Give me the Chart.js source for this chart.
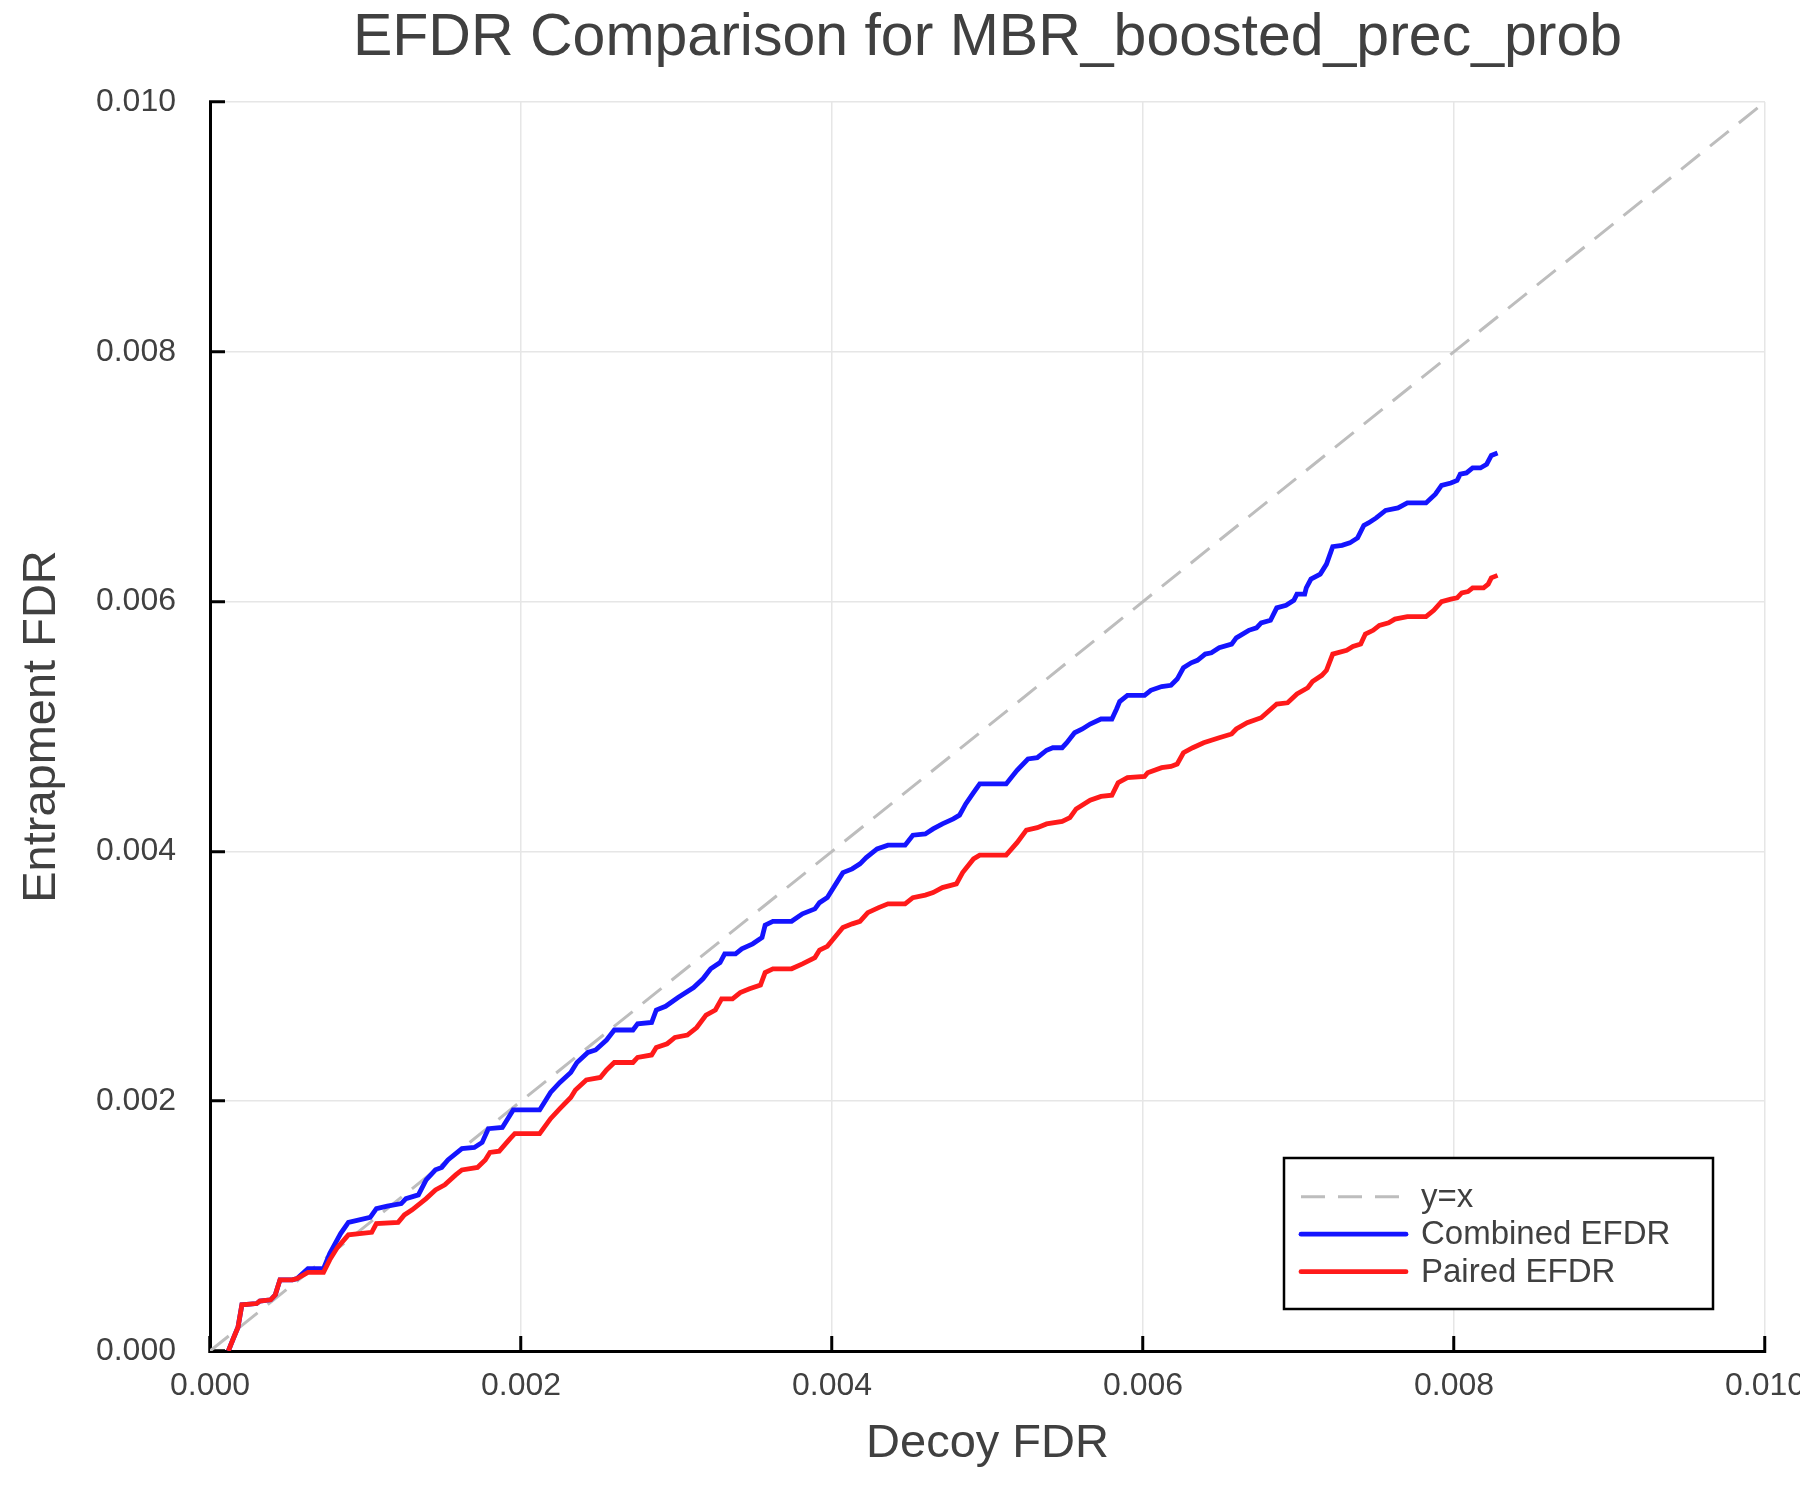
<!DOCTYPE html>
<html>
<head>
<meta charset="utf-8">
<script src="https://cdn.jsdelivr.net/npm/chart.js@4.4.1/dist/chart.umd.min.js"></script>
<style>html,body{margin:0;padding:0;background:#fff}canvas{display:block}</style>
</head>
<body>
<canvas id="c" width="1800" height="1500"></canvas>
<script>
const titleText = 'EFDR Comparison for MBR_boosted_prec_prob';
const xAxisTitle = 'Decoy FDR';
const yAxisTitle = 'Entrapment FDR';
const seriesLabels = ['y=x', 'Combined EFDR', 'Paired EFDR'];
const xTickLabels = ['0.000', '0.002', '0.004', '0.006', '0.008', '0.010'];
const yTickLabels = ['0.000', '0.002', '0.004', '0.006', '0.008', '0.010'];

const diagX = [0, 0.010];
const diagY = [0, 0.010];

const combinedX = [0.000118,0.00015,0.00018,0.000205,0.0003,0.00032,0.00039,0.00042,0.00045,0.00053,0.00056,0.00063,0.00073,0.00077,0.00084,0.00089,0.00103,0.00107,0.00114,0.00123,0.00126,0.00134,0.00139,0.00145,0.00149,0.00153,0.00162,0.0017,0.00175,0.00179,0.00188,0.00191,0.00195,0.00212,0.00219,0.00225,0.00232,0.00236,0.00243,0.00248,0.00255,0.0026,0.00272,0.00275,0.00284,0.00287,0.00293,0.00301,0.00311,0.00317,0.00322,0.00328,0.00331,0.00338,0.00342,0.00349,0.00355,0.00357,0.00362,0.00374,0.00381,0.00389,0.00392,0.00397,0.00403,0.00407,0.00413,0.00418,0.00422,0.00429,0.00436,0.00447,0.00452,0.0046,0.00465,0.00471,0.00478,0.00482,0.00486,0.00491,0.00495,0.00512,0.00519,0.00526,0.00532,0.00538,0.00542,0.00548,0.00551,0.00556,0.00561,0.00566,0.00573,0.0058,0.00583,0.00585,0.0059,0.00601,0.00605,0.00612,0.00618,0.00622,0.00626,0.00631,0.00635,0.0064,0.00644,0.00649,0.00657,0.0066,0.00668,0.00673,0.00676,0.00682,0.00686,0.00692,0.00697,0.00699,0.00704,0.00705,0.00708,0.00714,0.00718,0.00722,0.00728,0.00733,0.00738,0.00742,0.00745,0.0075,0.00756,0.00764,0.0077,0.00782,0.00788,0.00792,0.00798,0.00802,0.00804,0.00808,0.00812,0.00817,0.00821,0.00824,0.00828];
const combinedY = [0,0.0001,0.00019,0.00037,0.00038,0.0004,0.00041,0.00045,0.00057,0.00057,0.00058,0.00066,0.00066,0.00078,0.00094,0.00103,0.00107,0.00114,0.00116,0.00118,0.00122,0.00125,0.00137,0.00145,0.00147,0.00153,0.00162,0.00163,0.00167,0.00178,0.00179,0.00185,0.00193,0.00193,0.00207,0.00215,0.00223,0.00231,0.00239,0.00241,0.00249,0.00257,0.00257,0.00262,0.00263,0.00273,0.00276,0.00283,0.00291,0.00298,0.00306,0.00311,0.00318,0.00318,0.00322,0.00326,0.00331,0.00341,0.00344,0.00344,0.0035,0.00354,0.00359,0.00363,0.00375,0.00383,0.00386,0.0039,0.00395,0.00402,0.00405,0.00405,0.00413,0.00414,0.00418,0.00422,0.00426,0.00429,0.00438,0.00447,0.00454,0.00454,0.00465,0.00474,0.00475,0.00481,0.00483,0.00483,0.00487,0.00495,0.00498,0.00502,0.00506,0.00506,0.00514,0.0052,0.00525,0.00525,0.00529,0.00532,0.00533,0.00538,0.00547,0.00551,0.00553,0.00558,0.00559,0.00563,0.00566,0.00571,0.00577,0.00579,0.00583,0.00585,0.00595,0.00597,0.00601,0.00606,0.00606,0.00611,0.00618,0.00622,0.0063,0.00644,0.00645,0.00647,0.00651,0.00661,0.00663,0.00667,0.00673,0.00675,0.00679,0.00679,0.00686,0.00693,0.00695,0.00697,0.00702,0.00703,0.00707,0.00707,0.0071,0.00717,0.00719];

const pairedX = [0.000118,0.00015,0.00018,0.000205,0.0003,0.00032,0.00039,0.00042,0.00045,0.00053,0.00056,0.00063,0.00073,0.00077,0.00082,0.00089,0.00104,0.00107,0.00121,0.00125,0.0013,0.00139,0.00145,0.00151,0.00158,0.00162,0.00172,0.00177,0.0018,0.00186,0.00193,0.00196,0.00212,0.00219,0.00225,0.00232,0.00235,0.00242,0.00251,0.00255,0.0026,0.00272,0.00275,0.00284,0.00287,0.00294,0.00299,0.00307,0.00313,0.00319,0.00325,0.00329,0.00336,0.00341,0.00347,0.00354,0.00357,0.00362,0.00374,0.00381,0.00389,0.00392,0.00397,0.00403,0.00407,0.00413,0.00418,0.00423,0.0043,0.00436,0.00447,0.00452,0.0046,0.00465,0.00471,0.0048,0.00484,0.00491,0.00495,0.00512,0.00519,0.00525,0.00532,0.00538,0.00548,0.00553,0.00557,0.00566,0.00573,0.0058,0.00584,0.0059,0.00601,0.00603,0.00612,0.00618,0.00622,0.00626,0.00632,0.00639,0.00649,0.00657,0.0066,0.00667,0.00676,0.00686,0.00693,0.00699,0.00706,0.00709,0.00715,0.00718,0.00722,0.00731,0.00735,0.0074,0.00743,0.00748,0.00752,0.00758,0.00762,0.0077,0.00782,0.00787,0.00792,0.00798,0.00802,0.00805,0.00809,0.00812,0.00819,0.00822,0.00824,0.00828];
const pairedY = [0,0.0001,0.00019,0.00037,0.00038,0.0004,0.00041,0.00045,0.00057,0.00057,0.00058,0.00063,0.00063,0.00073,0.00083,0.00093,0.00095,0.00102,0.00103,0.00109,0.00113,0.00122,0.00129,0.00133,0.00141,0.00145,0.00147,0.00153,0.00159,0.0016,0.0017,0.00174,0.00174,0.00186,0.00194,0.00203,0.00209,0.00217,0.00219,0.00225,0.00231,0.00231,0.00235,0.00237,0.00243,0.00246,0.00251,0.00253,0.00259,0.00269,0.00273,0.00282,0.00282,0.00287,0.0029,0.00293,0.00303,0.00306,0.00306,0.0031,0.00315,0.00321,0.00324,0.00333,0.00339,0.00342,0.00344,0.00351,0.00355,0.00358,0.00358,0.00363,0.00365,0.00367,0.00371,0.00374,0.00383,0.00394,0.00397,0.00397,0.00407,0.00417,0.00419,0.00422,0.00424,0.00427,0.00434,0.00441,0.00444,0.00445,0.00455,0.00459,0.0046,0.00463,0.00467,0.00468,0.0047,0.00479,0.00483,0.00487,0.00491,0.00494,0.00498,0.00503,0.00507,0.00518,0.00519,0.00526,0.00531,0.00536,0.00541,0.00545,0.00558,0.00561,0.00564,0.00566,0.00574,0.00577,0.00581,0.00583,0.00586,0.00588,0.00588,0.00593,0.006,0.00602,0.00603,0.00607,0.00608,0.00611,0.00611,0.00614,0.00619,0.00621];

const toPoints = (xs, ys) => xs.map((x, i) => ({ x: x, y: ys[i] }));
const TEXT = '#404040';
const FONT = "'Liberation Sans', Arial, Helvetica, sans-serif";

const boxLegend = {
  id: 'boxLegend',
  afterDraw(chart) {
    const ctx = chart.ctx;
    const ca = chart.chartArea;
    const w = 429, h = 151;
    const bx = ca.right - 52 - w;
    const by = ca.bottom - 42 - h;
    ctx.save();
    ctx.fillStyle = '#ffffff';
    ctx.fillRect(bx, by, w, h);
    ctx.strokeStyle = '#000000';
    ctx.lineWidth = 2.5;
    ctx.strokeRect(bx, by, w, h);
    ctx.font = '33px ' + FONT;
    ctx.textBaseline = 'middle';
    ctx.textAlign = 'left';
    chart.data.datasets.forEach((ds, i) => {
      const cy = by + 38.7 + i * 37.5;
      ctx.beginPath();
      ctx.setLineDash(ds.borderDash || []);
      ctx.strokeStyle = ds.borderColor;
      ctx.lineWidth = ds.borderWidth;
      ctx.lineCap = ds.borderDash ? 'butt' : 'round';
      ctx.moveTo(bx + 17, cy);
      ctx.lineTo(bx + 122, cy);
      ctx.stroke();
      ctx.setLineDash([]);
      ctx.fillStyle = TEXT;
      ctx.fillText(ds.label, bx + 137, cy + 1);
    });
    ctx.restore();
  }
};

new Chart(document.getElementById('c'), {
  type: 'scatter',
  data: {
    datasets: [
      {
        label: seriesLabels[0],
        data: toPoints(diagX, diagY),
        showLine: true,
        borderColor: '#bdbdbd',
        borderWidth: 3,
        borderDash: [24, 13],
        pointRadius: 0,
        order: 3
      },
      {
        label: seriesLabels[1],
        data: toPoints(combinedX, combinedY),
        showLine: true,
        borderColor: '#1414ff',
        borderWidth: 4.8,
        pointRadius: 0,
        order: 2
      },
      {
        label: seriesLabels[2],
        data: toPoints(pairedX, pairedY),
        showLine: true,
        borderColor: '#ff1a1a',
        borderWidth: 4.8,
        pointRadius: 0,
        order: 1
      }
    ]
  },
  options: {
    responsive: false,
    devicePixelRatio: 1,
    animation: false,
    layout: { padding: { left: 0, right: 35, top: 0, bottom: 0 } },
    plugins: {
      legend: { display: false },
      tooltip: { enabled: false },
      title: {
        display: true,
        text: titleText,
        fullSize: false,
        color: TEXT,
        font: { family: FONT, size: 59, weight: 'normal' },
        padding: { top: 3, bottom: 28.2 }
      }
    },
    scales: {
      x: {
        type: 'linear',
        min: 0,
        max: 0.010,
        afterFit(s) { s.height = 149; s.paddingLeft = 0; s.paddingRight = 0; },
        ticks: {
          stepSize: 0.002,
          maxRotation: 0,
          autoSkip: false,
          padding: 31,
          color: TEXT,
          font: { family: FONT, size: 32 },
          callback: (v) => xTickLabels[Math.round(v / 0.002)]
        },
        grid: { color: '#e6e6e6', lineWidth: 1.5, tickLength: -15, tickColor: '#000000', tickWidth: 3 },
        border: { display: true, color: '#000000', width: 3 },
        title: { display: true, text: xAxisTitle, color: TEXT, font: { family: FONT, size: 47 }, padding: { top: 0, bottom: 28 } }
      },
      y: {
        type: 'linear',
        min: 0,
        max: 0.010,
        afterFit(s) { s.width = 210; s.paddingTop = 0; s.paddingBottom = 0; },
        ticks: {
          stepSize: 0.002,
          autoSkip: false,
          padding: 49,
          color: TEXT,
          font: { family: FONT, size: 32 },
          callback: (v) => yTickLabels[Math.round(v / 0.002)]
        },
        grid: { color: '#e6e6e6', lineWidth: 1.5, tickLength: -15, tickColor: '#000000', tickWidth: 3 },
        border: { display: true, color: '#000000', width: 3 },
        title: { display: true, text: yAxisTitle, color: TEXT, font: { family: FONT, size: 47 }, padding: { top: 14, bottom: 0 } }
      }
    }
  },
  plugins: [boxLegend]
});
</script>
</body>
</html>
